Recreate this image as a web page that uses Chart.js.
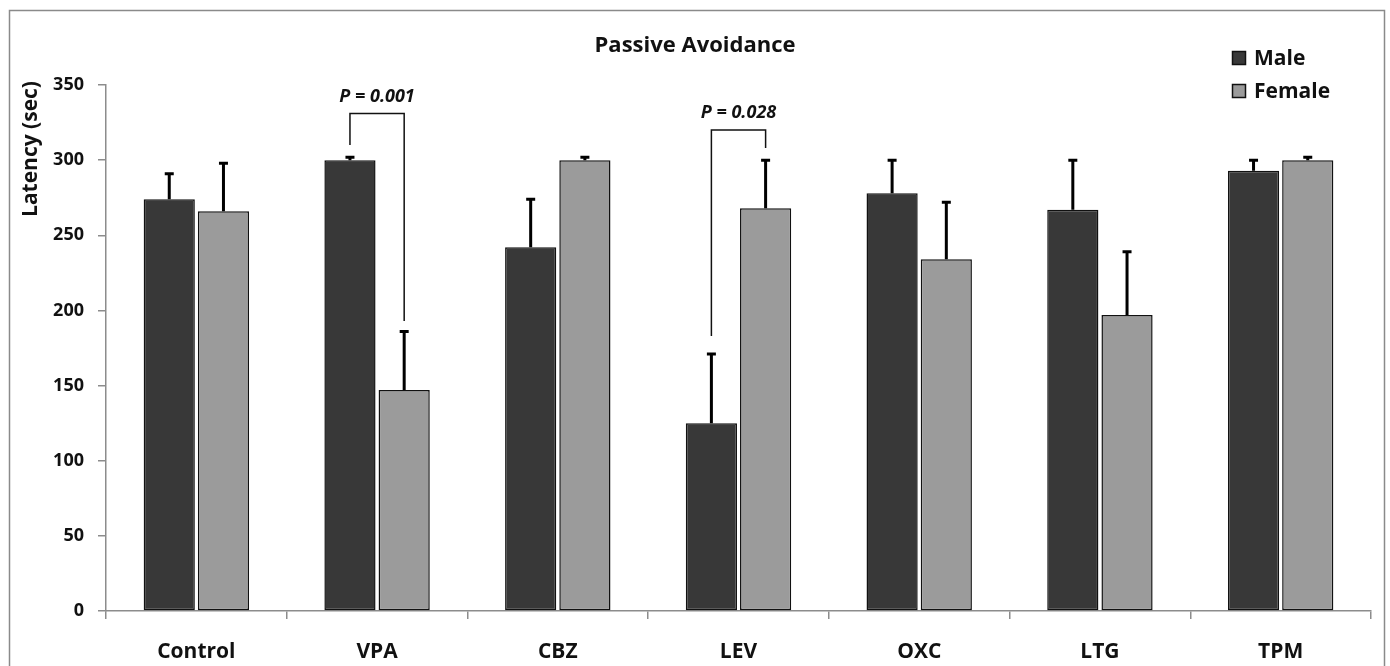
<!DOCTYPE html>
<html>
<head>
<meta charset="utf-8">
<script src="https://cdn.jsdelivr.net/npm/chart.js@4.4.1/dist/chart.umd.min.js"></script>
<style>
  html, body { margin: 0; padding: 0; background: #fff; overflow: hidden; }
  #wrap { position: relative; width: 1390px; height: 666px; }
</style>
</head>
<body>
<div id="wrap"><canvas id="myChart" width="1390" height="666"></canvas></div>
<script>
/*
  • Data
  ---------- ---------- ---------- ---------- ----------
*/
const groups = ['Control', 'VPA', 'CBZ', 'LEV', 'OXC', 'LTG', 'TPM'];
const maleValues = [274, 300, 242, 125, 278, 267, 293];
const femaleValues = [266, 147, 300, 268, 234, 197, 300];
const maleErrTop = [291, 302, 274, 171, 300, 300, 300];
const femaleErrTop = [298, 186, 302, 300, 272, 239, 302];
const yTicks = [0, 50, 100, 150, 200, 250, 300, 350];

// significance brackets: group index, left/right foot values, top value, label
const bracketGroups = [1, 3];
const bracketLeftFoot = [310, 183];
const bracketRightFoot = [193, 308];
const bracketTop = [331, 320];
const bracketLabels = ['P = 0.001', 'P = 0.028'];

const FONT = '"Open Sans", Lato, sans-serif';
const MALE_COLOR = '#383838';
const FEMALE_COLOR = '#9b9b9b';
const AXIS_COLOR = '#8c8c8c';
const TEXT_COLOR = '#111';

/*
  • Plugins
  ---------- ---------- ---------- ---------- ----------
*/
const errorBars = {
  id: 'errorBars',
  afterDatasetsDraw(chart) {
    const ctx = chart.ctx;
    const y = chart.scales.y;
    const tops = [maleErrTop, femaleErrTop];
    ctx.save();
    ctx.strokeStyle = '#000';
    ctx.lineWidth = 3;
    chart.data.datasets.forEach((ds, i) => {
      const meta = chart.getDatasetMeta(i);
      meta.data.forEach((bar, j) => {
        const yTop = y.getPixelForValue(tops[i][j]);
        ctx.beginPath();
        ctx.moveTo(bar.x, bar.y);
        ctx.lineTo(bar.x, yTop);
        ctx.moveTo(bar.x - 4.5, yTop);
        ctx.lineTo(bar.x + 4.5, yTop);
        ctx.stroke();
      });
    });
    ctx.restore();
  }
};

const decorations = {
  id: 'decorations',
  beforeDraw(chart) {
    const ctx = chart.ctx;
    ctx.save();
    ctx.strokeStyle = '#8a8a8a';
    ctx.lineWidth = 1.5;
    ctx.strokeRect(9.5, 10.5, 1375, 720);
    ctx.restore();
  },
  afterDraw(chart) {
    const ctx = chart.ctx;
    const y = chart.scales.y;
    ctx.save();
    ctx.fillStyle = TEXT_COLOR;
    ctx.textBaseline = 'alphabetic';

    // title
    ctx.textAlign = 'center';
    ctx.font = 'bold 22px ' + FONT;
    ctx.fillText('Passive Avoidance', 695, 52);

    // y axis title
    ctx.save();
    ctx.translate(37, 149);
    ctx.rotate(-Math.PI / 2);
    ctx.font = 'bold 21px ' + FONT;
    ctx.fillText('Latency (sec)', 0, 0);
    ctx.restore();

    // legend
    const legendItems = [['Male', MALE_COLOR, 65], ['Female', FEMALE_COLOR, 98]];
    ctx.textAlign = 'left';
    ctx.font = 'bold 21px ' + FONT;
    legendItems.forEach(([label, color, base]) => {
      ctx.fillStyle = color;
      ctx.fillRect(1232.5, base - 13.5, 13, 13);
      ctx.strokeStyle = TEXT_COLOR;
      ctx.lineWidth = 1.5;
      ctx.strokeRect(1232.5, base - 13.5, 13, 13);
      ctx.fillStyle = TEXT_COLOR;
      ctx.fillText(label, 1254, base);
    });

    // brackets
    const male = chart.getDatasetMeta(0);
    const female = chart.getDatasetMeta(1);
    ctx.strokeStyle = TEXT_COLOR;
    ctx.lineWidth = 1.5;
    bracketGroups.forEach((g, k) => {
      const xl = male.data[g].x;
      const xr = female.data[g].x;
      const yt = y.getPixelForValue(bracketTop[k]);
      ctx.beginPath();
      ctx.moveTo(xl, y.getPixelForValue(bracketLeftFoot[k]));
      ctx.lineTo(xl, yt);
      ctx.lineTo(xr, yt);
      ctx.lineTo(xr, y.getPixelForValue(bracketRightFoot[k]));
      ctx.stroke();
      ctx.fillStyle = TEXT_COLOR;
      ctx.textAlign = 'center';
      ctx.font = 'italic bold 18px ' + FONT;
      ctx.fillText(bracketLabels[k], (xl + xr) / 2, yt - 12);
    });

    ctx.restore();
  }
};

/*
  • Chart
  ---------- ---------- ---------- ---------- ----------
*/
const ctx = document.getElementById('myChart').getContext('2d');

new Chart(ctx, {
  type: 'bar',
  data: {
    labels: groups,
    datasets: [{
      label: 'Male',
      data: maleValues,
      backgroundColor: MALE_COLOR,
      borderColor: TEXT_COLOR,
      borderWidth: 1.5,
      borderSkipped: false
    }, {
      label: 'Female',
      data: femaleValues,
      backgroundColor: FEMALE_COLOR,
      borderColor: TEXT_COLOR,
      borderWidth: 1.5,
      borderSkipped: false
    }]
  },
  options: {
    responsive: false,
    animation: false,
    categoryPercentage: 0.6,
    barPercentage: 0.944,
    layout: {
      padding: {top: 85, right: 19, bottom: 0, left: 0}
    },
    plugins: {
      legend: {display: false},
      tooltip: {enabled: false},
      title: {display: false}
    },
    scales: {
      x: {
        grid: {
          offset: true,
          drawOnChartArea: false,
          drawTicks: true,
          tickLength: 8,
          color: AXIS_COLOR,
          lineWidth: 1.5
        },
        border: {color: AXIS_COLOR, width: 1.5},
        ticks: {
          color: TEXT_COLOR,
          padding: 20,
          font: {family: FONT, size: 21, weight: 'bold'}
        },
        afterFit: (s) => { s.height = 55; }
      },
      y: {
        min: 0,
        max: 350,
        afterBuildTicks: (s) => { s.ticks = yTicks.map(v => ({value: v})); },
        grid: {
          drawOnChartArea: false,
          drawTicks: true,
          tickLength: 8,
          color: AXIS_COLOR,
          lineWidth: 1.5
        },
        border: {color: AXIS_COLOR, width: 1.5},
        ticks: {
          color: TEXT_COLOR,
          padding: 14,
          font: {family: FONT, size: 18, weight: 'bold'}
        },
        afterFit: (s) => { s.width = 106; }
      }
    }
  },
  plugins: [errorBars, decorations]
});
</script>
</body>
</html>
